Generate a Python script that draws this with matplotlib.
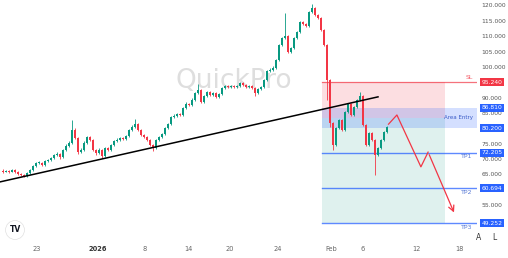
import matplotlib.pyplot as plt
import matplotlib.transforms as mtransforms

# === Data ===
closes = [66.0, 66.3, 66.0, 66.6, 66.0, 65.3, 65.0, 64.6, 65.6, 66.6,
          67.9, 68.9, 68.9, 68.2, 69.5, 69.8, 70.5, 71.5, 71.8, 70.8,
          73.1, 74.4, 75.4, 79.6, 77.0, 72.4, 73.1, 75.4, 77.3, 76.4,
          73.1, 72.1, 73.1, 71.1, 73.7, 73.1, 74.7, 76.0, 76.4, 77.0,
          76.7, 77.7, 79.6, 80.6, 81.6, 79.6, 78.0, 77.3, 76.4, 74.7,
          73.7, 76.4, 77.3, 78.3, 80.3, 81.6, 83.8, 84.2, 84.8, 84.5,
          86.8, 88.1, 87.8, 89.4, 91.7, 92.6, 88.7, 90.7, 92.0, 91.0,
          91.7, 90.4, 91.3, 93.3, 93.9, 93.6, 93.9, 93.6, 93.9, 94.9,
          94.3, 93.6, 93.9, 93.3, 91.7, 93.0, 93.6, 95.9, 98.8, 99.2,
          99.8, 102.4, 107.3, 109.6, 110.2, 105.0, 106.3, 109.6, 111.5, 114.8,
          114.1, 113.5, 118.0, 119.3, 117.1, 116.1, 112.2, 107.3, 95.9, 81.9,
          74.7, 80.3, 82.9, 79.6, 85.5, 88.1, 84.5, 87.1, 89.4, 90.7,
          81.2, 74.7, 78.6, 76.4, 71.5, 73.7, 76.4, 79.0, 80.6]
highs = [66.8, 66.7, 66.6, 67.0, 66.9, 66.3, 65.6, 65.3, 65.9, 66.9,
         68.3, 69.3, 69.4, 69.2, 69.9, 70.3, 70.9, 71.9, 72.3, 72.0,
         73.5, 74.9, 76.0, 82.9, 80.2, 77.3, 73.6, 75.9, 77.8, 77.7,
         76.7, 73.4, 73.6, 73.4, 74.1, 74.0, 75.1, 76.4, 76.9, 77.4,
         77.3, 78.1, 80.0, 81.1, 83.2, 81.9, 79.9, 78.3, 77.6, 76.7,
         75.0, 76.8, 77.7, 78.7, 80.7, 82.0, 84.2, 84.7, 85.3, 85.1,
         87.2, 88.6, 88.5, 89.9, 92.1, 94.6, 92.9, 91.1, 92.4, 92.3,
         92.1, 92.0, 91.7, 93.7, 94.3, 94.2, 94.4, 94.2, 94.3, 95.3,
         95.2, 94.6, 94.3, 94.2, 93.6, 93.4, 94.0, 96.3, 99.2, 99.7,
         100.3, 102.8, 107.7, 110.0, 117.7, 110.5, 106.7, 110.0, 111.9, 115.2,
         115.1, 114.4, 118.4, 120.6, 119.6, 117.4, 116.4, 112.5, 107.6, 96.2,
         82.2, 80.7, 83.3, 83.2, 85.9, 88.5, 88.4, 87.5, 89.8, 92.0,
         91.0, 81.5, 79.0, 78.9, 76.7, 74.1, 76.8, 79.4, 81.0]
lows = [65.7, 65.8, 65.6, 65.8, 65.7, 65.0, 64.6, 64.2, 64.4, 65.4,
        66.4, 67.6, 68.5, 67.8, 68.0, 69.2, 69.5, 70.2, 71.1, 70.3,
        70.6, 72.8, 74.1, 75.1, 76.6, 71.8, 72.0, 72.8, 75.0, 76.0,
        72.7, 71.6, 71.8, 70.6, 70.8, 72.7, 72.8, 74.4, 75.7, 76.1,
        76.3, 76.4, 77.4, 79.3, 80.3, 79.2, 77.6, 76.9, 76.0, 74.3,
        72.8, 73.4, 76.1, 77.0, 78.0, 80.0, 81.3, 83.5, 83.9, 84.1,
        84.2, 86.5, 87.4, 87.5, 89.1, 91.4, 88.3, 88.4, 90.4, 90.6,
        90.7, 90.0, 90.1, 91.0, 93.0, 93.2, 93.3, 93.2, 93.3, 93.6,
        93.9, 93.2, 93.3, 92.9, 90.7, 91.4, 92.7, 93.3, 95.6, 98.5,
        98.9, 99.5, 102.1, 107.0, 109.3, 104.6, 104.7, 106.0, 109.3, 111.2,
        113.7, 113.1, 113.2, 117.7, 116.7, 115.7, 111.8, 106.9, 89.4, 80.5,
        73.1, 74.4, 80.0, 79.2, 79.3, 85.2, 84.1, 84.2, 86.8, 89.1,
        80.8, 74.3, 74.4, 76.0, 65.0, 71.2, 73.4, 76.1, 78.7]
first_open = 66.3

date_labels = ["23", "2026", "8", "14", "20", "24", "Feb", "6", "12", "18"]
date_pos = [12.3, 32.7, 48.3, 62.7, 76.7, 92.7, 110.3, 121.0, 138.7, 153.3]

price_ticks = [120, 115, 110, 105, 100, 90, 85, 75, 70, 65, 55]

sl_price = 95.240
entry_hi, entry_lo = 86.810, 80.200
entry_split = 83.6
tp_prices = [72.205, 60.694, 49.252]
tp_names = ["TP1", "TP2", "TP3"]

trend_x = [0, 126]
trend_y = [62.7, 90.4]

path_x = [129.5, 132.3, 140.3, 142.7, 151.7]
path_y = [81.5, 84.5, 67.6, 72.4, 51.9]

zone_x = [107.3, 148.3]

UP = "#089981"
DOWN = "#f23645"
BLUE = "#2962ff"

fig = plt.figure(figsize=(5.08, 2.58), dpi=100)
ax = fig.add_axes([0, 17 / 258, 477 / 508, 241 / 258])
ax.set_xlim(0, 159)
ax.set_ylim(43.45, 121.95)
for s in ax.spines.values():
    s.set_visible(False)
ax.set_xticks([])
ax.set_yticks([])

# watermark
ax.text(78, 95.5, "QuickPro", fontsize=19, color="#dedede", ha="center", va="center", zorder=0)

# zones
ax.fill_between(zone_x, entry_split, sl_price, color=DOWN, alpha=0.16, lw=0, zorder=1)
ax.fill_between(zone_x, tp_prices[-1], entry_split, color=UP, alpha=0.13, lw=0, zorder=1)
ax.fill_between([zone_x[0], 159], entry_lo, entry_hi, color=BLUE, alpha=0.2, lw=0, zorder=1)

ax.plot([zone_x[0], 159], [sl_price, sl_price], color=DOWN, lw=0.9, alpha=0.7, zorder=2)
for p in tp_prices:
    ax.plot([zone_x[0], 159], [p, p], color=BLUE, lw=1.0, alpha=0.75, zorder=2)

# candles
opens = [first_open] + closes[:-1]
xs = list(range(1, len(closes) + 1))
for x, o, h, l, c in zip(xs, opens, highs, lows, closes):
    col = UP if c >= o else DOWN
    ax.vlines(x, l, h, color=col, lw=0.6, zorder=3)
    bottom = min(o, c)
    height = max(abs(c - o), 0.25)
    ax.bar(x, height, bottom=bottom, width=0.65, color=col, lw=0, zorder=3)

# trend line
ax.plot(trend_x, trend_y, color="black", lw=1.1, zorder=4)

# projected path
ax.plot(path_x[:-1], path_y[:-1], color=DOWN, lw=0.9, zorder=4)
ax.annotate("", xy=(path_x[-1], path_y[-1]), xytext=(path_x[-2], path_y[-2]),
            arrowprops=dict(arrowstyle="->", color=DOWN, lw=0.9), zorder=4)

# zone labels
ax.text(157.5, sl_price + 0.6, "SL", color=DOWN, fontsize=4.5, ha="right", va="bottom", alpha=0.8)
ax.text(157.5, (entry_hi + entry_lo) / 2 + 0.3, "Area Entry", color="#3a5bc7", fontsize=4, ha="right", va="center")
for p, n in zip(tp_prices, tp_names):
    ax.text(157.5, p - 0.5, n, color="#5a7bd6", fontsize=4.5, ha="right", va="top")

# right price axis
trans = mtransforms.blended_transform_factory(ax.transAxes, ax.transData)
for p in price_ticks:
    ax.text(1.01, p, f"{p:.3f}", transform=trans, fontsize=4.3, color="#555555",
            ha="left", va="center", clip_on=False)
boxes = [(sl_price, DOWN), (entry_hi, BLUE), (entry_lo, BLUE)] + [(p, BLUE) for p in tp_prices]
for p, col in boxes:
    ax.text(1.01, p, f"{p:.3f}", transform=trans, fontsize=4.3, color="white",
            ha="left", va="center", clip_on=False, zorder=6,
            bbox=dict(boxstyle="square,pad=0.25", fc=col, ec="none"))

fig.text(479 / 508, 1 - 237 / 258, "A", fontsize=5.5, color="#333333", ha="center", va="center")
fig.text(494 / 508, 1 - 237 / 258, "L", fontsize=5.5, color="#333333", ha="center", va="center")

# date axis
for pos, lab in zip(date_pos, date_labels):
    bold = lab == "2026"
    ax.text(pos, -0.035, lab, transform=mtransforms.blended_transform_factory(ax.transData, ax.transAxes),
            fontsize=4.8, color="#333333" if bold else "#666666",
            fontweight="bold" if bold else "normal", ha="center", va="center", clip_on=False)

# TV logo
fig.text(15 / 508, 1 - 230 / 258, "TV", fontsize=5.5, fontweight="bold", color="#131722",
         ha="center", va="center",
         bbox=dict(boxstyle="circle,pad=0.5", fc="white", ec="#e0e0e0", lw=0.5))

fig.savefig("out.png", dpi=100)
